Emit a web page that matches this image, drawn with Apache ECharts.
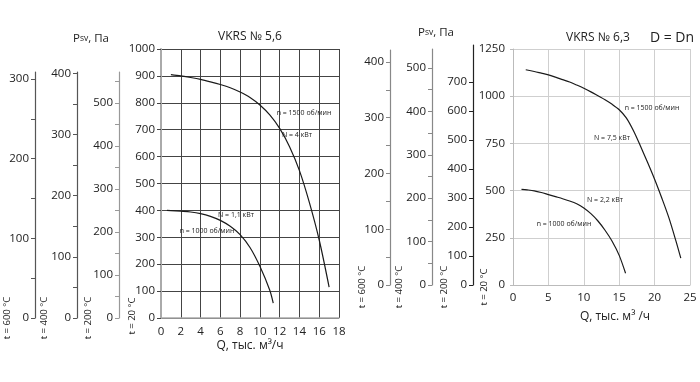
<!DOCTYPE html>
<html><head><meta charset="utf-8">
<script src="https://cdn.jsdelivr.net/npm/echarts@6/dist/echarts.min.js"></script>
<style>html,body{margin:0;padding:0;background:#fff}#c{width:700px;height:382px}</style>
</head><body><div id="c"></div>
<script>
const FONT = '"Open Sans", "DejaVu Sans", sans-serif';

// VKRS № 5,6
const qL1500 = [1, 2, 3, 4, 5, 6, 7, 8, 9, 10, 11, 12, 13, 14, 15, 16, 17];
const pL1500 = [905, 900, 894, 887, 878, 868, 856, 840, 820, 792, 755, 705, 637, 548, 430, 290, 115];
const qL1000 = [0.6, 1, 2, 3, 4, 5, 6, 7, 8, 9, 10, 11, 11.35];
const pL1000 = [400, 399.5, 397, 394, 388, 378, 363, 341, 310, 262, 192, 103, 55];
// VKRS № 6,3
const qR1500 = [1.8, 3, 4, 5, 6, 7, 8, 9, 10, 11, 12, 13, 14, 15, 16, 17, 18, 19, 20, 21, 22, 23, 23.7];
const pR1500 = [1140, 1131, 1122, 1113, 1101, 1088, 1075, 1059, 1042, 1023, 1002, 981, 957, 928, 885, 818, 736, 650, 560, 462, 358, 235, 142];
const qR1000 = [1.2, 2, 3, 4, 5, 6, 7, 8, 9, 10, 11, 12, 13, 14, 15, 15.9];
const pR1000 = [507, 504, 499, 490, 479, 468, 457, 445, 430, 408, 378, 339, 290, 232, 157, 62];

// axis ticks
const xTicksL = [0, 2, 4, 6, 8, 10, 12, 14, 16, 18];
const xTicksR = [0, 5, 10, 15, 20, 25];
const yTicksL = [0, 100, 200, 300, 400, 500, 600, 700, 800, 900, 1000];
const yTicksR = [0, 250, 500, 750, 1000, 1250];
const L200Labels = [0, 100, 200, 300, 400, 500];
const L200Ticks = [0, 50, 100, 150, 200, 250, 300, 350, 400, 450, 500, 550];
const L400Labels = [0, 100, 200, 300, 400];
const L400Ticks = [0, 50, 100, 150, 200, 250, 300, 350, 400];
const L600Labels = [0, 100, 200, 300];
const L600Ticks = [0, 50, 100, 150, 200, 250, 300];
const R600Labels = [0, 100, 200, 300, 400];
const R600Ticks = [0, 50, 100, 150, 200, 250, 300, 350, 400];
const R400Labels = [0, 100, 200, 300, 400, 500];
const R400Ticks = [0, 50, 100, 150, 200, 250, 300, 350, 400, 450, 500];
const R200Labels = [0, 100, 200, 300, 400, 500, 600, 700];

const zip = (a, b) => a.map((v, i) => [v, b[i]]);
const fmt = v => String(v);

const chart = echarts.init(document.getElementById('c'), null, {renderer: 'canvas'});

const grids = [
  {left: 161, top: 49, width: 178, height: 269},
  {left: 513, top: 49, width: 177, height: 236},
  {left: 119, top: 72, width: 1, height: 246},
  {left: 77, top: 72, width: 1, height: 246},
  {left: 35, top: 72, width: 1, height: 246},
  {left: 390, top: 50, width: 1, height: 235},
  {left: 432, top: 49, width: 1, height: 236},
  {left: 473, top: 45, width: 1, height: 240}
];

const lab = {fontFamily: FONT, fontSize: 11.5, color: '#222', formatter: fmt};

const xAxes = [
  {gridIndex: 0, type: 'value', min: 0, max: 18, interval: 2,
   axisLine: {lineStyle: {color: '#aaa', width: 1.5}}, axisTick: {show: false},
   axisLabel: Object.assign({margin: 8, customValues: xTicksL}, lab),
   splitLine: {show: true, lineStyle: {color: '#444', width: 1}}},
  {gridIndex: 1, type: 'value', min: 0, max: 25, interval: 5,
   axisLine: {lineStyle: {color: '#bbb', width: 1}}, axisTick: {show: false},
   axisLabel: Object.assign({margin: 7, customValues: xTicksR}, lab),
   splitLine: {show: true, lineStyle: {color: '#cfcfcf', width: 1}}}
];
for (let g = 2; g < 8; g++) xAxes.push({gridIndex: g, type: 'value', show: false, min: 0, max: 1});

function aux(g, max, labels, ticks, color) {
  return {gridIndex: g, type: 'value', position: 'left', min: 0, max: max, interval: 50,
    axisLine: {show: true, lineStyle: {color: color, width: 1.2}},
    axisTick: {show: true, length: 4, inside: false, customValues: ticks, lineStyle: {color: color}},
    axisLabel: Object.assign({margin: 6, customValues: labels}, lab),
    splitLine: {show: false}};
}

const yAxes = [
  {gridIndex: 0, type: 'value', min: 0, max: 1000, interval: 100,
   axisLine: {show: true, lineStyle: {color: '#aaa', width: 2}},
   axisTick: {show: true, length: 4, lineStyle: {color: '#444'}},
   axisLabel: Object.assign({margin: 6, customValues: yTicksL}, lab),
   splitLine: {show: true, lineStyle: {color: '#444', width: 1}}},
  {gridIndex: 1, type: 'value', min: 0, max: 1250, interval: 250,
   axisLine: {show: true, lineStyle: {color: '#bbb', width: 1}},
   axisTick: {show: true, length: 3, lineStyle: {color: '#bbb'}},
   axisLabel: Object.assign({margin: 8, customValues: yTicksR}, lab),
   splitLine: {show: true, lineStyle: {color: '#cfcfcf', width: 1}}},
  aux(2, 572, L200Labels, L200Ticks, '#999'),
  aux(3, 402, L400Labels, L400Ticks, '#555'),
  aux(4, 308.7, L600Labels, L600Ticks, '#555'),
  aux(5, 421.5, R600Labels, R600Ticks, '#888'),
  aux(6, 543.8, R400Labels, R400Ticks, '#888'),
  aux(7, 827.6, R200Labels, R200Labels, '#222')
];

function curve(x, y, q, p) {
  return {type: 'line', xAxisIndex: x, yAxisIndex: y, data: zip(q, p), smooth: 0.3,
    showSymbol: false, silent: true,
    lineStyle: {color: '#1a1a1a', width: 1.2}};
}

const small = (t, x, y) => ({type: 'text', x: x, y: y, z: 10,
  style: {text: t, fontFamily: FONT, fontSize: 7, fill: '#222', align: 'center', verticalAlign: 'middle'}});
const rot = (t, x, y) => ({type: 'text', x: x, y: y, rotation: Math.PI / 2,
  style: {text: t, fontFamily: FONT, fontSize: 9.5, fill: '#222', align: 'center', verticalAlign: 'middle'}});
const psv = (x, y) => ({type: 'text', x: x, y: y,
  style: {text: '{a|P}{b|sv}{a|, Па}', align: 'center', verticalAlign: 'middle',
    rich: {a: {fontFamily: FONT, fontSize: 11.5, fill: '#222'}, b: {fontFamily: FONT, fontSize: 8.5, fill: '#222'}}}});
const txt = (t, x, y, fs) => ({type: 'text', x: x, y: y,
  style: {text: t, fontFamily: FONT, fontSize: fs, fill: '#222', align: 'center', verticalAlign: 'middle'}});

chart.setOption({
  animation: false,
  backgroundColor: '#fff',
  grid: grids,
  xAxis: xAxes,
  yAxis: yAxes,
  series: [
    curve(0, 0, qL1500, pL1500),
    curve(0, 0, qL1000, pL1000),
    curve(1, 1, qR1500, pR1500),
    curve(1, 1, qR1000, pR1000)
  ],
  graphic: [
    psv(91, 39), psv(436, 33),
    txt('VKRS № 5,6', 250, 37, 12), txt('VKRS № 6,3', 598, 38, 12), txt('D = Dn', 672, 38, 14),
    txt('Q, тыс. м³/ч', 250, 346, 12), txt('Q, тыс. м³ /ч', 615, 317, 12),
    small('n = 1500 об/мин', 304, 113), small('N = 4 кВт', 297, 135),
    small('N = 1,1 кВт', 236, 215), small('n = 1000 об/мин', 207, 231),
    small('n = 1500 об/мин', 652, 108), small('N = 7,5 кВт', 612, 138),
    small('N = 2,2 кВт', 605, 200), small('n = 1000 об/мин', 564, 224),
    rot('t = 600 °C', 7, 318), rot('t = 400 °C', 44, 318), rot('t = 200 °C', 88, 318), rot('t = 20 °C', 132, 316),
    rot('t = 600 °C', 362, 287), rot('t = 400 °C', 399, 287), rot('t = 200 °C', 444, 287), rot('t = 20 °C', 484, 287)
  ]
});
</script>
</body></html>
